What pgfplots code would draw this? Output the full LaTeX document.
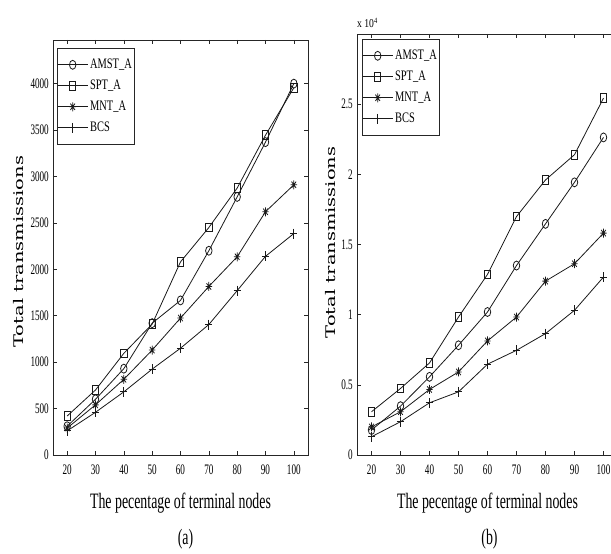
\documentclass[border=0pt]{standalone}
\usepackage{pgfplots}
\pgfplotsset{compat=1.18}
\usepackage{fontspec}
\usepackage{graphicx}
\newfontfamily\tnr{Liberation Serif}
\newfontfamily\dvs{DejaVu Serif}
\newcommand\tk[1]{\scalebox{0.63}[1]{\tnr\fontsize{14.5}{14.5}\selectfont #1}}
\newcommand\lgd[1]{\scalebox{0.72}[1]{\tnr\fontsize{14.5}{14.5}\selectfont #1}}
\newcommand\lab[1]{\scalebox{0.63}[1]{\tnr\fontsize{22}{22}\selectfont #1}}
\newcommand\ylab[1]{\scalebox{1}[0.68]{\dvs\fontsize{19.5}{19.5}\selectfont #1}}

\pgfdeclareplotmark{mstar}{%
  \pgfpathmoveto{\pgfqpoint{0pt}{\pgfplotmarksize}}\pgfpathlineto{\pgfqpoint{0pt}{-\pgfplotmarksize}}%
  \pgfpathmoveto{\pgfqpoint{\pgfplotmarksize}{0pt}}\pgfpathlineto{\pgfqpoint{-\pgfplotmarksize}{0pt}}%
  \pgfpathmoveto{\pgfqpoint{0.707\pgfplotmarksize}{0.707\pgfplotmarksize}}\pgfpathlineto{\pgfqpoint{-0.707\pgfplotmarksize}{-0.707\pgfplotmarksize}}%
  \pgfpathmoveto{\pgfqpoint{0.707\pgfplotmarksize}{-0.707\pgfplotmarksize}}\pgfpathlineto{\pgfqpoint{-0.707\pgfplotmarksize}{0.707\pgfplotmarksize}}%
  \pgfusepathqstroke}

\pgfplotsset{
  mystyle/.style={
    scale only axis,
    xmin=15, xmax=105, ymin=0,
    scaled y ticks=false, scaled x ticks=false,
    xtick={20,30,40,50,60,70,80,90,100},
    xticklabels={\tk{20},\tk{30},\tk{40},\tk{50},\tk{60},\tk{70},\tk{80},\tk{90},\tk{100}},
    tick align=inside,
    major tick length=4pt,
    axis line style={line width=0.6pt, black!85},
    every tick/.style={black!85, line width=0.6pt},
    xticklabel style={anchor=base, yshift=-20pt},
    yticklabel style={anchor=east, inner xsep=0pt, xshift=-4pt},
    legend cell align=left,
    legend style={at={(axis description cs:0,1)}, anchor=north west,
      draw=black!85, line width=0.6pt, inner xsep=0pt, inner ysep=6pt,
      nodes={inner ysep=3pt, inner xsep=2pt, text height=11pt, text depth=4pt}},
    legend image code/.code={\draw[mark repeat=2,mark phase=2] plot coordinates {(0pt,0pt) (15pt,0pt) (30pt,0pt)};},
  },
  sA/.style={black!90, line width=0.8pt, mark=o, mark size=4.5pt, mark options={xscale=0.72, solid}},
  sS/.style={black!90, line width=0.8pt, mark=square, mark size=4.3pt, mark options={xscale=0.72, solid}},
  sM/.style={black!90, line width=0.8pt, mark=mstar, mark size=4.5pt, mark options={xscale=0.72, solid}},
  sB/.style={black!90, line width=0.8pt, mark=+, mark size=5pt, mark options={xscale=0.72, solid}},
}

\begin{document}
\begin{tikzpicture}
\begin{axis}[mystyle, name=ax1,
  at={(53pt,99pt)}, anchor=south west,
  width=255pt, height=415pt,
  ymax=4470,
  ytick={0,500,1000,1500,2000,2500,3000,3500,4000},
  yticklabels={\tk{0},\tk{500},\tk{1000},\tk{1500},\tk{2000},\tk{2500},\tk{3000},\tk{3500},\tk{4000}},
  ylabel={\ylab{Total transmissions}},
  ylabel style={at={(axis description cs:-0.135,0.49)}, anchor=center},
  xlabel={\lab{The pecentage of terminal nodes}},
  xlabel style={at={(axis description cs:0.5,0)}, anchor=base, yshift=-54pt},
  legend style={xshift=4pt, yshift=-8pt},
]
\addplot[sA] coordinates {(20,310)(30,600)(40,930)(50,1420)(60,1665)(70,2200)(80,2780)(90,3370)(100,4000)};
\addplot[sS] coordinates {(20,420)(30,700)(40,1095)(50,1410)(60,2080)(70,2450)(80,2875)(90,3445)(100,3955)};
\addplot[sM] coordinates {(20,290)(30,540)(40,815)(50,1130)(60,1475)(70,1815)(80,2135)(90,2620)(100,2910)};
\addplot[sB] coordinates {(20,260)(30,460)(40,680)(50,925)(60,1150)(70,1405)(80,1770)(90,2140)(100,2385)};
\legend{\lgd{AMST\_A},\lgd{SPT\_A},\lgd{MNT\_A},\lgd{BCS}}
\end{axis}

\begin{axis}[mystyle, name=ax2,
  at={(357pt,99pt)}, anchor=south west,
  width=261pt, height=421pt,
  ymax=30000,
  ytick={0,5000,10000,15000,20000,25000},
  yticklabels={\tk{0},\tk{0.5},\tk{1},\tk{1.5},\tk{2},\tk{2.5}},
  ylabel={\ylab{Total transmissions}},
  ylabel style={at={(axis description cs:-0.103,0.505)}, anchor=center},
  xlabel={\lab{The pecentage of terminal nodes}},
  xlabel style={at={(axis description cs:0.5,0)}, anchor=base, yshift=-54pt},
  legend style={xshift=5pt, yshift=-5pt},
]
\addplot[sA] coordinates {(20,1780)(30,3480)(40,5570)(50,7820)(60,10190)(70,13500)(80,16470)(90,19430)(100,22630)};
\addplot[sS] coordinates {(20,3080)(30,4740)(40,6560)(50,9830)(60,12870)(70,16990)(80,19600)(90,21400)(100,25430)};
\addplot[sM] coordinates {(20,2000)(30,3080)(40,4670)(50,5920)(60,8130)(70,9830)(80,12390)(90,13630)(100,15810)};
\addplot[sB] coordinates {(20,1300)(30,2370)(40,3720)(50,4500)(60,6470)(70,7460)(80,8650)(90,10310)(100,12680)};
\legend{\lgd{AMST\_A},\lgd{SPT\_A},\lgd{MNT\_A},\lgd{BCS}}
\end{axis}
\node[anchor=base, yshift=-90pt, xshift=5pt] at (ax1.south) {\lab{(a)}};
\node[anchor=base, yshift=-90pt, xshift=2pt] at (ax2.south) {\lab{(b)}};
\node[anchor=base west, inner sep=0pt, yshift=6pt] at (ax2.north west) {\scalebox{0.8}[1]{\tnr\fontsize{12}{12}\selectfont x 10\textsuperscript{4}}};
\pgfresetboundingbox
\path[use as bounding box] (0,0) rectangle (611pt,554pt);
\end{tikzpicture}
\end{document}
